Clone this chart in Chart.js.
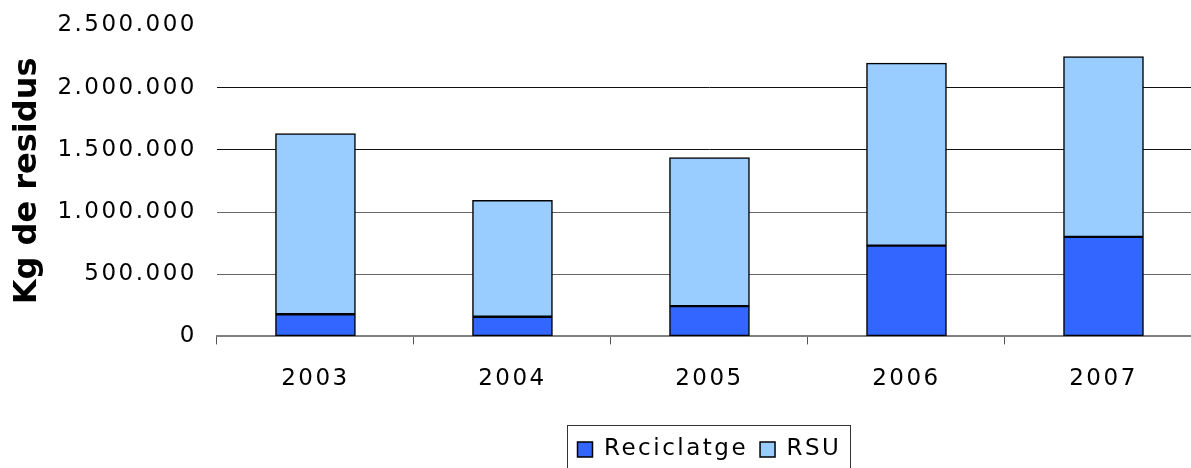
<!DOCTYPE html>
<html>
<head>
<meta charset="utf-8">
<script src="https://cdn.jsdelivr.net/npm/chart.js@4/dist/chart.umd.min.js"></script>
<style>
    html, body { margin: 0; padding: 0; background: #fff; }
    .wrap { width: 1191px; height: 468px; overflow: hidden; }
</style>
</head>
<body>
<div class="wrap"><canvas id="chart1" width="1202" height="468"></canvas></div>
<script>
const years = ["2003", "2004", "2005", "2006", "2007"];
const reciclatge = [178000, 158000, 243000, 730000, 800000];
const rsu = [1452000, 937000, 1195000, 1468000, 1450000];
const yTicks = [0, 500000, 1000000, 1500000, 2000000, 2500000];

const fontFamily = "'DejaVu Sans', Verdana, sans-serif";
const spacing = "2.5px";

// y scale whose title is drawn without the spaced letters of the tick labels
class TitleScale extends Chart.LinearScale {
    drawTitle() {
        const ctx = this.ctx;
        const old = ctx.letterSpacing;
        ctx.letterSpacing = "0px";
        super.drawTitle();
        ctx.letterSpacing = old;
    }
}
TitleScale.id = "linearTitle";
TitleScale.defaults = Chart.LinearScale.defaults;
Chart.register(TitleScale);

const formatNumber = (v) => String(v).replace(/\B(?=(\d{3})+(?!\d))/g, ".");

// Letter spacing like the original picture
const spacingPlugin = {
    id: "spacing",
    beforeUpdate: (chart) => { chart.ctx.letterSpacing = spacing; },
    beforeDraw: (chart) => { chart.ctx.letterSpacing = spacing; }
};

// Frame round the legend
const legendFrame = {
    id: "legendFrame",
    afterDraw: (chart) => {
        const legend = chart.legend;
        const boxes = legend.legendHitBoxes;
        if (!boxes || !boxes.length) return;
        const first = boxes[0];
        const last = boxes[boxes.length - 1];
        const ctx = chart.ctx;
        ctx.save();
        ctx.strokeStyle = "#333";
        ctx.lineWidth = 1;
        const left = Math.round(first.left - 11) + 0.5;
        const right = Math.round(last.left + last.width + 9) + 0.5;
        const top = Math.round(first.top - 13) + 0.5;
        ctx.strokeRect(left, top, right - left, 60);
        ctx.restore();
    }
};

const chart1 = document.querySelector("#chart1");
if (chart1) {
    new Chart(chart1, {
        type: "bar",
        data: {
            labels: years,
            datasets: [
                {
                    label: "Reciclatge",
                    data: reciclatge,
                    backgroundColor: "#3366FF",
                    borderColor: "#000",
                    borderWidth: 1.5,
                    borderSkipped: false,
                    barThickness: 80
                },
                {
                    label: "RSU",
                    data: rsu,
                    backgroundColor: "#99CCFF",
                    borderColor: "#000",
                    borderWidth: 1.5,
                    borderSkipped: false,
                    barThickness: 80
                }
            ]
        },
        options: {
            responsive: false,
            animation: false,
            devicePixelRatio: 1,
            layout: {
                padding: { left: 8, top: 25.5, right: 0, bottom: -3 }
            },
            plugins: {
                legend: {
                    position: "bottom",
                    fullSize: false,
                    labels: {
                        color: "#000",
                        font: { family: fontFamily, size: 23 },
                        boxWidth: 15,
                        boxHeight: 15,
                        padding: 12
                    }
                },
                tooltip: { enabled: false }
            },
            scales: {
                x: {
                    stacked: true,
                    grid: {
                        offset: true,
                        drawOnChartArea: false,
                        drawTicks: true,
                        tickLength: 8,
                        color: "#555"
                    },
                    border: { display: true, color: "#808080", width: 2 },
                    ticks: {
                        color: "#000",
                        font: { family: fontFamily, size: 23 },
                        padding: 21
                    },
                    afterFit: (scale) => { scale.height += 12; }
                },
                y: {
                    type: "linearTitle",
                    stacked: true,
                    min: 0,
                    max: 2500000,
                    afterBuildTicks: (scale) => {
                        scale.ticks = yTicks.map(v => ({ value: v }));
                    },
                    afterFit: (scale) => {
                        scale.width -= 17;
                        scale.paddingTop = 0;
                    },
                    grid: {
                        drawTicks: false,
                        color: (c) => {
                            const v = c.tick ? c.tick.value : 0;
                            if (v === 0 || v === 2500000) return "rgba(0,0,0,0)";
                            return v >= 1500000 ? "#111" : "#666";
                        }
                    },
                    border: { display: false },
                    ticks: {
                        color: "#000",
                        font: { family: fontFamily, size: 23 },
                        padding: 20,
                        callback: (v) => formatNumber(v)
                    },
                    title: {
                        display: true,
                        text: "Kg de residus",
                        color: "#000",
                        font: { family: fontFamily, size: 32, weight: "bold" },
                        padding: { top: 0, bottom: 8 }
                    }
                }
            }
        },
        plugins: [spacingPlugin, legendFrame]
    });
}
</script>
</body>
</html>
